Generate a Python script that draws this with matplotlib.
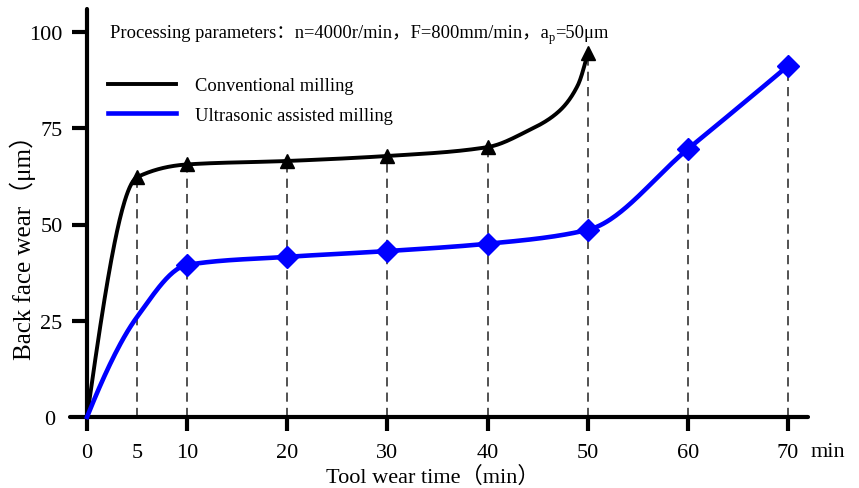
import numpy as np
import matplotlib
matplotlib.use("Agg")
import matplotlib.pyplot as plt
from matplotlib.lines import Line2D

plt.rcParams['font.family'] = ['Liberation Serif', 'Noto Sans CJK SC']

# ---- data ----
conv_x = [0, 5, 10, 20, 30, 40, 44, 47, 49, 50]
conv_y = [0, 62.3, 65.6, 66.5, 67.8, 70.1, 74.3, 79.1, 86.1, 94.5]
conv_marks = [1, 2, 3, 4, 5, 9]

ultra_x = [0, 5, 10, 20, 30, 40, 50, 60, 70]
ultra_y = [0, 26.0, 39.5, 41.6, 43.1, 45.0, 48.6, 69.6, 91.2]
ultra_marks = [2, 3, 4, 5, 6, 7, 8]

xticks = [0, 5, 10, 20, 30, 40, 50, 60, 70]
yticks = [0, 25, 50, 75, 100]

labels = ['Conventional milling', 'Ultrasonic assisted milling']
param_main = 'Processing parameters：n=4000r/min，F=800mm/min，a'
param_sub = 'p'
param_tail = '=50μm'


def pchip(x, y, xn):
    x = np.asarray(x, float); y = np.asarray(y, float)
    h = np.diff(x); d = np.diff(y) / h
    n = len(x); m = np.zeros(n)
    for k in range(1, n - 1):
        if d[k - 1] * d[k] > 0:
            w1 = 2 * h[k] + h[k - 1]; w2 = h[k] + 2 * h[k - 1]
            m[k] = (w1 + w2) / (w1 / d[k - 1] + w2 / d[k])
    def endslope(h0, h1, d0, d1):
        s = ((2 * h0 + h1) * d0 - h0 * d1) / (h0 + h1)
        if np.sign(s) != np.sign(d0):
            s = 0
        elif np.sign(d0) != np.sign(d1) and abs(s) > abs(3 * d0):
            s = 3 * d0
        return s
    m[0] = endslope(h[0], h[1], d[0], d[1])
    m[-1] = endslope(h[-1], h[-2], d[-1], d[-2])
    idx = np.clip(np.searchsorted(x, xn) - 1, 0, n - 2)
    t = (xn - x[idx]) / h[idx]
    h00 = 2 * t**3 - 3 * t**2 + 1; h10 = t**3 - 2 * t**2 + t
    h01 = -2 * t**3 + 3 * t**2; h11 = t**3 - t**2
    return h00 * y[idx] + h10 * h[idx] * m[idx] + h01 * y[idx + 1] + h11 * h[idx] * m[idx + 1]


W, H = 859, 489
fig = plt.figure(figsize=(W / 100, H / 100), dpi=100)
ax = fig.add_axes([70 / W, 1 - 433.4 / H, 738 / W, 423.5 / H])
ax.set_xlim(-1.7, 72)
ax.set_ylim(-4, 106)

# dashed guide lines
vx = sorted(set(conv_x[i] for i in conv_marks) | set(ultra_x[i] for i in ultra_marks))
top = []
for v in vx:
    vals = []
    if v in conv_x and conv_x.index(v) in conv_marks:
        vals.append(conv_y[conv_x.index(v)])
    if v in ultra_x and ultra_x.index(v) in ultra_marks:
        vals.append(ultra_y[ultra_x.index(v)])
    top.append(max(vals))
ax.vlines(vx, 0, top, colors='#222222', linestyles=(0, (6, 4)), linewidth=1.1, zorder=1)

xs_c = np.linspace(conv_x[0], conv_x[-1], 600)
xs_u = np.linspace(ultra_x[0], ultra_x[-1], 400)
ax.plot(xs_c, pchip(conv_x, conv_y, xs_c), color='black', lw=2.8, zorder=3)
ax.plot(xs_u, pchip(ultra_x, ultra_y, xs_u), color='#0000ff', lw=3.3, zorder=3)
ax.plot([conv_x[i] for i in conv_marks], [conv_y[i] for i in conv_marks], ls='none',
        marker='^', ms=10, color='black', zorder=4)
ax.plot([ultra_x[i] for i in ultra_marks], [ultra_y[i] for i in ultra_marks], ls='none',
        marker='D', ms=11, color='#0000ff', zorder=4)

# spines
for s in ['top', 'right']:
    ax.spines[s].set_visible(False)
ax.spines['left'].set_position(('data', 0))
ax.spines['bottom'].set_position(('data', 0))
ax.spines['left'].set_bounds(0, 106)
for s in ['left', 'bottom']:
    ax.spines[s].set_linewidth(3)
    ax.spines[s].set_capstyle('round')

ax.set_xticks(xticks)
ax.set_xticklabels([str(v) for v in xticks])
ax.set_yticks(yticks)
ax.set_yticklabels([str(v) for v in yticks])
ax.tick_params(axis='x', direction='out', length=10, width=3, pad=9, labelsize=16)
ax.tick_params(axis='y', direction='out', length=11, width=3, pad=6.5, labelsize=16)
ax.xaxis.get_major_ticks()[1].tick1line.set_visible(False)
ax.yaxis.get_major_ticks()[0].tick1line.set_visible(False)
ax.yaxis.get_major_ticks()[0].set_pad(12)

ax.set_xlabel('Tool wear time（min）', fontsize=16)
ax.xaxis.set_label_coords(433 / W, 1 - 477 / H, transform=fig.transFigure)
ax.xaxis.label.set_va('center')
ax.set_ylabel('Back face wear（μm）', fontsize=18)
ax.yaxis.set_label_coords(23 / W, 1 - 241 / H, transform=fig.transFigure)
ax.yaxis.label.set_va('center')

fig.text(828 / W, 1 - 453 / H, 'min', fontsize=16, ha='center', va='center')

# parameter annotation (with subscript)
ybase = 1 - 38 / H
t1 = fig.text(110 / W, ybase, param_main, fontsize=13.3, ha='left', va='baseline')
fig.canvas.draw()
r = fig.canvas.get_renderer()
x1 = t1.get_window_extent(r).x1 / W
t2 = fig.text(x1, ybase - 3 / H, param_sub, fontsize=9, ha='left', va='baseline')
x2 = t2.get_window_extent(r).x1 / W
fig.text(x2, ybase, param_tail, fontsize=13.3, ha='left', va='baseline')

handles = [Line2D([], [], color='black', lw=2.8), Line2D([], [], color='#0000ff', lw=3.3)]
fig.legend(handles, labels,
           loc='upper left', bbox_to_anchor=(108 / W, 1 - 78 / H), frameon=False,
           fontsize=13.3, handlelength=3.7, handletextpad=1.0, labelspacing=0.7,
           borderpad=0, borderaxespad=0)

fig.savefig('out.png', dpi=100)
